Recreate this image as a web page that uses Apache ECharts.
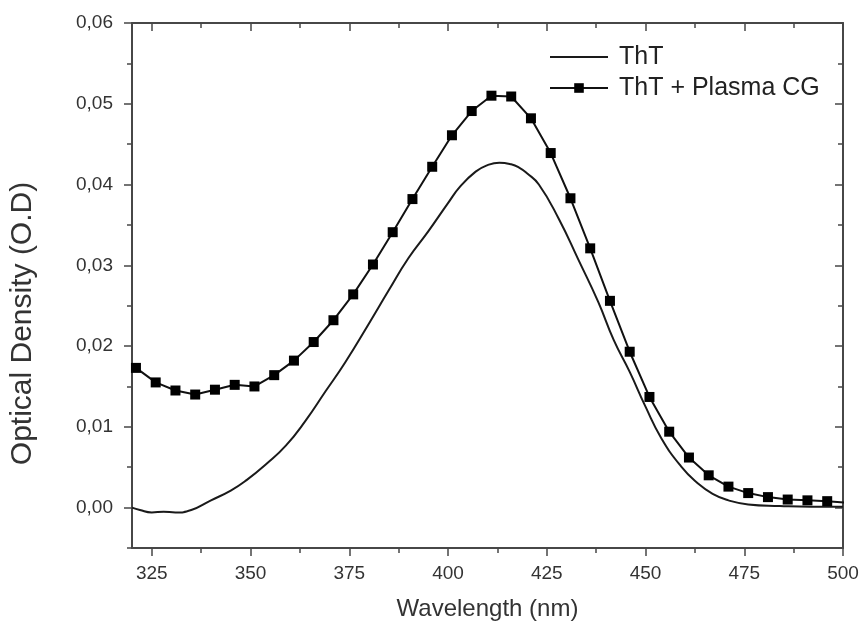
<!DOCTYPE html>
<html>
<head>
<meta charset="utf-8">
<script src="https://cdn.jsdelivr.net/npm/echarts@6/dist/echarts.min.js"></script>
<style>
    html, body { margin: 0; padding: 0; background: #fff; }
    #chart { width: 864px; height: 630px; }
</style>
</head>
<body>
<div id="chart"></div>
<script>
    // ThT alone
    const thtX = [320, 322, 325, 328, 331, 335, 340, 345, 349, 354, 359, 364, 369, 374, 380, 385, 390, 395, 400, 403,
        407, 410, 413, 416, 418, 420, 423, 428, 433, 438, 442, 446, 450, 454, 459, 463, 467, 471, 476, 484, 492, 500]
    const thtY = [0.0000, -0.0003, -0.0006, -0.0005, -0.0006, -0.0003, 0.0009, 0.0021, 0.0034, 0.0054, 0.0077, 0.0108,
        0.0144, 0.0180, 0.0228, 0.0269, 0.0309, 0.0342, 0.0377, 0.0397, 0.0416, 0.0424, 0.0427, 0.0425, 0.0421, 0.0414,
        0.0400, 0.0358, 0.0307, 0.0255, 0.0207, 0.0168, 0.0125, 0.0086, 0.0051, 0.0031, 0.0017, 0.0009, 0.0004, 0.0002,
        0.0001, 0.0001]

    // ThT + Plasma CG, one value per square marker
    const plasmaX = [321, 326, 331, 336, 341, 346, 351, 356, 361, 366, 371, 376, 381, 386, 391, 396, 401, 406, 411,
        416, 421, 426, 431, 436, 441, 446, 451, 456, 461, 466, 471, 476, 481, 486, 491, 496, 501]
    const plasmaY = [0.0173, 0.0155, 0.0145, 0.0140, 0.0146, 0.0152, 0.0150, 0.0164, 0.0182, 0.0205, 0.0232, 0.0264,
        0.0301, 0.0341, 0.0382, 0.0422, 0.0461, 0.0491, 0.0510, 0.0509, 0.0482, 0.0439, 0.0383, 0.0321, 0.0256, 0.0193,
        0.0137, 0.0094, 0.0062, 0.0040, 0.0026, 0.0018, 0.0013, 0.0010, 0.0009, 0.0008, 0.0006]

    // tick positions
    const xMajor = [325, 350, 375, 400, 425, 450, 475, 500]
    const xMinor = [337.5, 362.5, 387.5, 412.5, 437.5, 462.5, 487.5]
    const yMajor = [0, 0.01, 0.02, 0.03, 0.04, 0.05, 0.06]
    const yMinor = [-0.005, 0.005, 0.015, 0.025, 0.035, 0.045, 0.055]

    const font = 'Liberation Sans, Arial, sans-serif'
    const axisColor = '#474747'

    const chart = echarts.init(document.getElementById('chart'))

    function xAx(pos, ticks, len, opts) {
        return Object.assign({
            type: 'value', position: pos, min: 320, max: 500,
            axisLine: { show: false, onZero: false },
            axisTick: { show: true, inside: pos === 'top', length: len, customValues: ticks,
                lineStyle: { color: axisColor, width: 1.5 } },
            axisLabel: { show: false },
            splitLine: { show: false }
        }, opts || {})
    }

    function yAx(pos, ticks, len, opts) {
        return Object.assign({
            type: 'value', position: pos, min: -0.005, max: 0.06,
            axisLine: { show: false, onZero: false },
            axisTick: { show: true, inside: pos === 'right', length: len, customValues: ticks,
                lineStyle: { color: axisColor, width: 1.5 } },
            axisLabel: { show: false },
            splitLine: { show: false }
        }, opts || {})
    }

    const mainLine = { show: true, onZero: false, lineStyle: { color: axisColor, width: 2 } }

    const option = {
        animation: false,
        textStyle: { fontFamily: font },
        grid: { left: 132, right: 21, top: 23, bottom: 82 },
        legend: {
            orient: 'vertical',
            left: 544,
            top: 39,
            itemWidth: 58,
            itemHeight: 12,
            itemGap: 5,
            textStyle: { fontSize: 25, lineHeight: 26, color: '#222', fontFamily: font, padding: [0, 0, 0, 6] },
            data: [
                { name: 'ThT', itemStyle: { opacity: 0 } },
                { name: 'ThT + Plasma CG' }
            ]
        },
        xAxis: [
            xAx('bottom', xMajor, 8, {
                name: 'Wavelength (nm)', nameLocation: 'middle', nameGap: 49,
                nameTextStyle: { fontSize: 24, color: '#333', fontFamily: font },
                axisLine: mainLine,
                axisLabel: { show: true, customValues: xMajor, margin: 16, fontSize: 19, color: '#333', fontFamily: font }
            }),
            xAx('bottom', xMinor, 5),
            xAx('top', xMajor, 8, { axisLine: mainLine }),
            xAx('top', xMinor, 5)
        ],
        yAxis: [
            yAx('left', yMajor, 8, {
                name: 'Optical Density (O.D)', nameLocation: 'middle', nameGap: 94, nameRotate: 90,
                nameTextStyle: { fontSize: 30, color: '#333', fontFamily: font, padding: [0, 76, 0, 0] },
                axisLine: mainLine,
                axisLabel: {
                    show: true, customValues: yMajor, margin: 19, fontSize: 19, color: '#333', fontFamily: font,
                    formatter: v => v.toFixed(2).replace('.', ',')
                }
            }),
            yAx('left', yMinor, 5),
            yAx('right', yMajor, 8, { axisLine: mainLine }),
            yAx('right', yMinor, 5)
        ],
        series: [
            {
                name: 'ThT',
                type: 'line',
                xAxisIndex: 0,
                yAxisIndex: 0,
                smooth: 0.5,
                showSymbol: false,
                symbol: 'none',
                lineStyle: { color: '#1a1a1a', width: 2 },
                itemStyle: { color: '#1a1a1a' },
                data: thtX.map((x, i) => [x, thtY[i]])
            },
            {
                name: 'ThT + Plasma CG',
                type: 'line',
                xAxisIndex: 0,
                yAxisIndex: 0,
                symbol: 'rect',
                symbolSize: 10,
                lineStyle: { color: '#111', width: 2 },
                itemStyle: { color: '#000' },
                data: plasmaX.map((x, i) => [x, plasmaY[i]])
            }
        ]
    }

    option && chart.setOption(option)
</script>
</body>
</html>
